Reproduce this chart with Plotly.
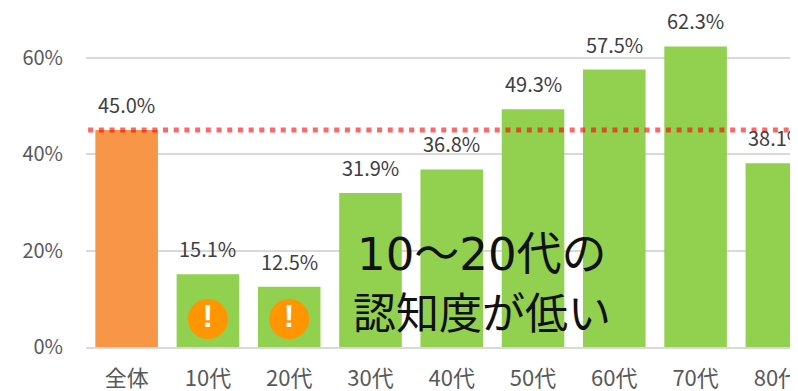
import plotly.graph_objects as go

categories = ["全体", "10代", "20代", "30代", "40代", "50代", "60代", "70代", "80代"]
values = [45.0, 15.1, 12.5, 31.9, 36.8, 49.3, 57.5, 62.3, 38.1]
labels = ["45.0%", "15.1%", "12.5%", "31.9%", "36.8%", "49.3%", "57.5%", "62.3%", "38.1%"]
colors = ["#F79646", "#92D050", "#92D050", "#92D050", "#92D050", "#92D050", "#92D050", "#92D050", "#92D050"]
tick_vals = [0, 20, 40, 60]
tick_text = ["0%", "20%", "40%", "60%"]
reference_line = 45.0
warning_categories = ["10代", "20代"]
warning_heights = [5.8, 5.8]
callout_lines = ["10～20代の", "認知度が低い"]
FONT = "Noto Sans CJK JP"

fig = go.Figure()
fig.add_bar(x=categories, y=values, marker_color=colors, marker_line_width=0, width=0.77,
            showlegend=False)
fig.add_scatter(x=warning_categories, y=warning_heights, mode="markers+text", text=["!", "!"],
                marker=dict(size=40, color="#FF9500"), textposition="middle center",
                textfont=dict(size=32, color="white", family="Liberation Sans", weight="bold"),
                showlegend=False)
fig.add_shape(type="line", xref="paper", x0=0.003, x1=1.0, yref="y", y0=reference_line, y1=reference_line,
              layer="above", line=dict(color="rgba(255,0,0,0.6)", width=5, dash="5px,5.7px"))
for cat, val, lab in zip(categories, values, labels):
    fig.add_annotation(x=cat, y=val, text=lab, showarrow=False, yanchor="bottom", yshift=9,
                       font=dict(size=20, color="#404040", family=FONT))
fig.add_annotation(xref="paper", yref="paper", x=0.378, y=0.274, xanchor="left", yanchor="middle",
                   text=callout_lines[0], showarrow=False,
                   font=dict(size=45, color="#111111", family="DejaVu Sans, " + FONT))
fig.add_annotation(xref="paper", yref="paper", x=0.372, y=0.108, xanchor="left", yanchor="middle",
                   text=callout_lines[1], showarrow=False, font=dict(size=43, color="#111111", family=FONT))
fig.update_layout(width=790, height=383, margin=dict(l=78, r=0, t=0, b=44), plot_bgcolor="white",
                  paper_bgcolor="white", font=dict(family=FONT),
                  xaxis=dict(range=[-0.5, 8.26], tickfont=dict(size=22, color="#595959"), ticks="",
                             showgrid=False, linecolor="#D9D9D9", linewidth=2, showline=True,
                             ticklabelstandoff=11, automargin=False),
                  yaxis=dict(range=[0, 70.26], tickvals=tick_vals, ticktext=tick_text,
                             tickfont=dict(size=20, color="#595959"), gridcolor="#D9D9D9", gridwidth=1.5,
                             showline=False, zeroline=False, ticks="", ticklabelstandoff=22,
                             automargin=False))
fig.write_html("out.html")
